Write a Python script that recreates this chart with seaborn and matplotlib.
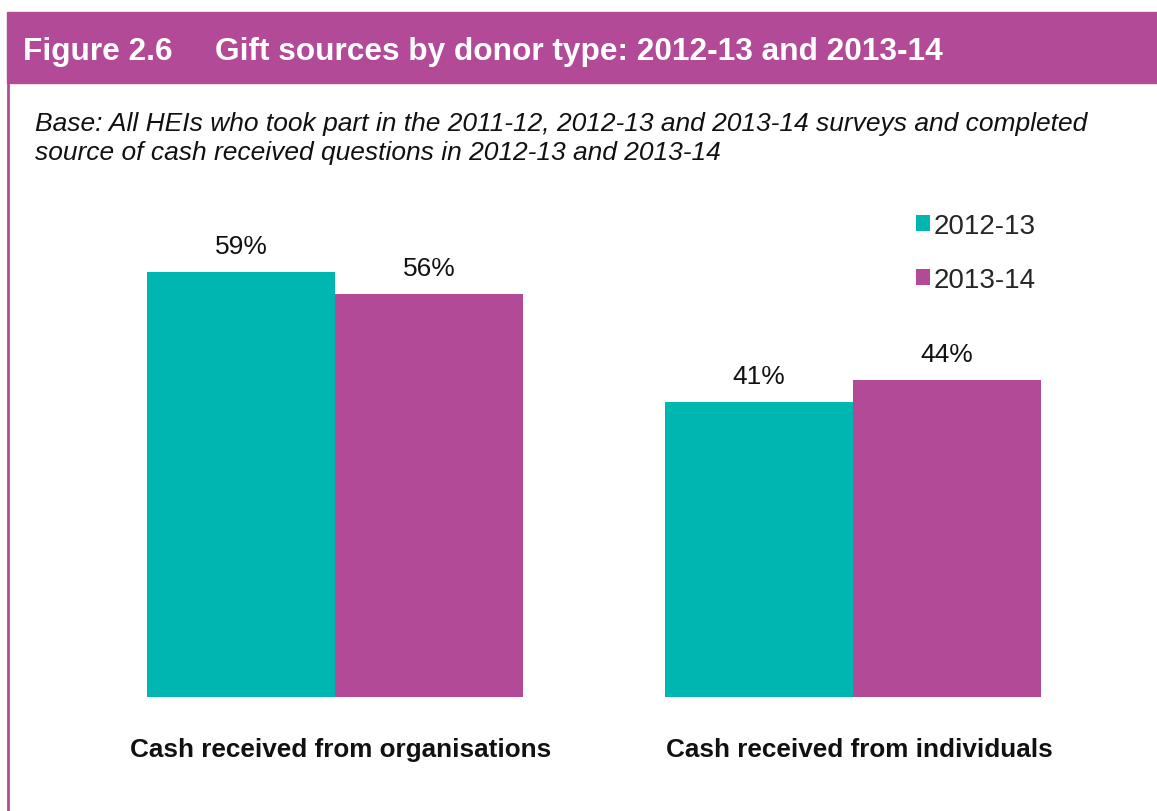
import pandas as pd
import seaborn as sns
import matplotlib.pyplot as plt
import matplotlib.transforms as mtransforms
from matplotlib.patches import Rectangle
from matplotlib.lines import Line2D

categories = ["Cash received from organisations", "Cash received from individuals"]
years = ["2012-13", "2013-14"]
values_2012 = [59, 41]
values_2013 = [56, 44]

teal = "#00B6B1"
purple = "#B24A98"

df = pd.DataFrame({
    "category": categories * 2,
    "year": [years[0]] * 2 + [years[1]] * 2,
    "value": values_2012 + values_2013,
})

sns.set_theme(style="white")
plt.rcParams["font.family"] = ["Liberation Sans", "DejaVu Sans"]

W, H = 1157, 812
fig = plt.figure(figsize=(W / 100, H / 100), dpi=100)

# header band and left border
fig.patches.append(Rectangle((7 / W, 1 - 84 / H), 1 - 7 / W, 71 / H,
                             transform=fig.transFigure, color=purple, zorder=0))
fig.add_artist(Line2D([8 / W, 8 / W], [0, 1 - 84 / H], transform=fig.transFigure,
                      color=purple, lw=2))
fig.text(23 / W, 1 - 52 / H, "Figure 2.6", color="white", fontsize=22.8,
         fontweight="bold", va="center")
fig.text(215 / W, 1 - 52 / H, "Gift sources by donor type: 2012-13 and 2013-14",
         color="white", fontsize=22.8, fontweight="bold", va="center")
fig.text(35 / W, 1 - 124 / H,
         "Base: All HEIs who took part in the 2011-12, 2012-13 and 2013-14 surveys and completed",
         fontsize=19, style="italic", color="#111111", va="center")
fig.text(35 / W, 1 - 153 / H,
         "source of cash received questions in 2012-13 and 2013-14",
         fontsize=19, style="italic", color="#111111", va="center")

ax = fig.add_axes([76 / W, (H - 698) / H, (1112 - 76) / W, (698 - 194) / H])
sns.barplot(data=df, x="category", y="value", hue="year", palette=[teal, purple],
            width=0.726, linewidth=0, saturation=1, ax=ax)

for container in ax.containers:
    ax.bar_label(container, labels=[f"{int(v)}%" for v in container.datavalues],
                 padding=10, fontsize=19, color="#111111")

ax.set_ylim(0, 70)
ax.set_xlim(-0.5, 1.5)
ax.set_yticks([])
ax.set_xlabel("")
ax.set_ylabel("")
ax.tick_params(axis="x", length=0, pad=29)
shift = mtransforms.ScaledTranslation(6 / 100, 0, fig.dpi_scale_trans)
for lbl in ax.get_xticklabels():
    lbl.set_fontweight("bold")
    lbl.set_fontsize(18.8)
    lbl.set_color("#111111")
    lbl.set_transform(lbl.get_transform() + shift)
sns.despine(ax=ax, left=True, bottom=True)

handles, labels = ax.get_legend_handles_labels()
ax.legend(handles, labels, loc="upper left", bbox_to_anchor=(902 / W, 1 - 200 / H),
          bbox_transform=fig.transFigure, frameon=False, fontsize=20,
          handlelength=0.5, handleheight=0.5, handletextpad=0.15, labelspacing=1.0,
          borderpad=0)

fig.savefig("out.png", dpi=100)
